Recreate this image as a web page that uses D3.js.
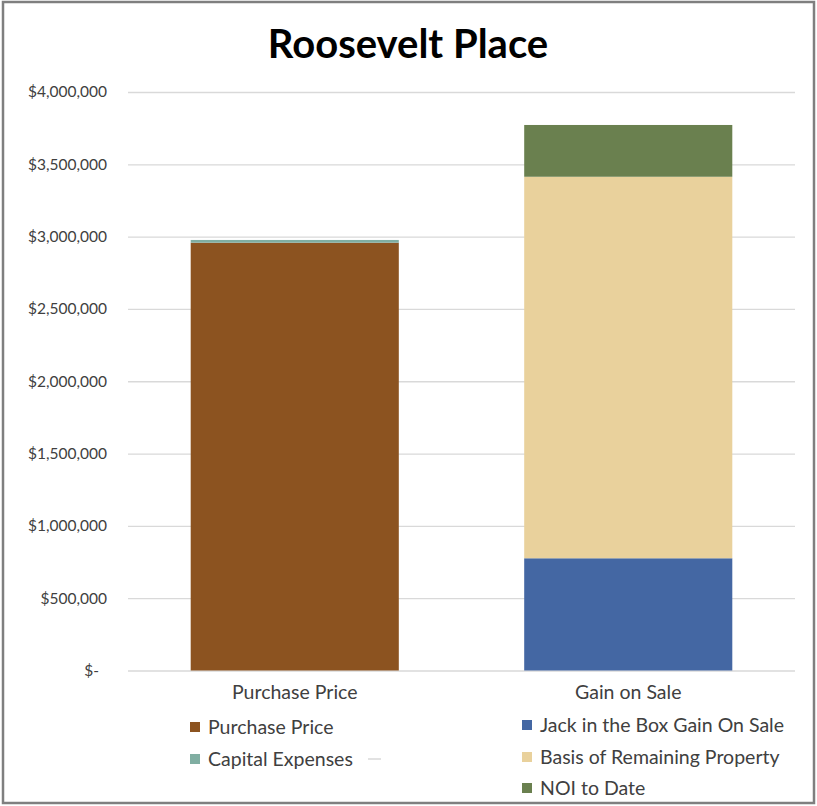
<!DOCTYPE html>
<html>
<head>
<meta charset="utf-8">
<script src="https://cdn.jsdelivr.net/npm/d3@7"></script>
<style>
  body { margin: 0; background: #fff; }
  svg { display: block; font-family: Lato, "Open Sans", sans-serif; }
</style>
</head>
<body>
<svg id="chart" width="817" height="806"></svg>
<script>
// values
const categories = ['Purchase Price', 'Gain on Sale'];
const seriesNames = ['Purchase Price', 'Capital Expenses', 'Jack in the Box Gain On Sale', 'Basis of Remaining Property', 'NOI to Date'];
const purchasePrice = [2958000, 0];
const capitalExpenses = [19000, 0];
const jackInTheBox = [0, 776000];
const basisRemaining = [0, 2638000];
const noiToDate = [0, 358000];
const yTicks = [0, 500000, 1000000, 1500000, 2000000, 2500000, 3000000, 3500000, 4000000];

const colors = ['#8c5320', '#80aea2', '#4467a3', '#e9d19c', '#6a804f'];

const svg = d3.select('#chart');
const W = 817, H = 806;

// outer border
svg.append('rect')
  .attr('x', 3).attr('y', 2)
  .attr('width', W - 6).attr('height', H - 5)
  .attr('fill', '#fff')
  .attr('stroke', '#7f7f7f')
  .attr('stroke-width', 2.5);

svg.append('text')
  .attr('x', 408).attr('y', 58)
  .attr('text-anchor', 'middle')
  .attr('font-size', 40)
  .attr('font-weight', 'bold')
  .attr('fill', '#000')
  .text('Roosevelt Place');

const plotLeft = 128, plotRight = 795, plotTop = 92, plotBottom = 670.5;

const y = d3.scaleLinear().domain([0, 4000000]).range([plotBottom, plotTop]);
const x = d3.scaleBand().domain(categories).range([plotLeft, plotRight])
  .paddingInner(0.376).paddingOuter(0.188);

// gridlines
const grid = svg.append('g')
  .attr('transform', `translate(${plotLeft},0)`)
  .call(d3.axisLeft(y).tickValues(yTicks).tickSize(-(plotRight - plotLeft)).tickFormat(''));
grid.select('.domain').remove();
grid.selectAll('line').attr('stroke', '#d9d9d9').attr('stroke-width', 1.3);

// y axis labels
const fmt = d3.format('$,');
const yAxis = svg.append('g')
  .attr('transform', `translate(${plotLeft},0)`)
  .call(d3.axisLeft(y).tickValues(yTicks).tickSize(0).tickPadding(21)
    .tickFormat(d => d === 0 ? '$-' : fmt(d)));
yAxis.select('.domain').remove();
yAxis.selectAll('text')
  .attr('font-size', 15.5)
  .attr('fill', '#404040')
  .attr('font-family', 'Lato, sans-serif');
yAxis.selectAll('.tick').filter(d => d === 0).select('text').attr('dx', -8);

// stacked bars
const rows = categories.map((c, i) => ({
  cat: c,
  'Purchase Price': purchasePrice[i],
  'Capital Expenses': capitalExpenses[i],
  'Jack in the Box Gain On Sale': jackInTheBox[i],
  'Basis of Remaining Property': basisRemaining[i],
  'NOI to Date': noiToDate[i]
}));
const stacked = d3.stack().keys(seriesNames)(rows);

svg.append('g').selectAll('g')
  .data(stacked)
  .join('g')
  .attr('fill', (d, i) => colors[i])
  .selectAll('rect')
  .data(d => d.filter(p => p[1] - p[0] > 0))
  .join('rect')
  .attr('x', d => x(d.data.cat))
  .attr('width', x.bandwidth())
  .attr('y', d => y(d[1]))
  .attr('height', d => y(d[0]) - y(d[1]));

// x axis
const xAxis = svg.append('g')
  .attr('transform', `translate(0,${plotBottom})`)
  .call(d3.axisBottom(x).tickSize(0).tickPadding(15));
xAxis.select('.domain').remove();
xAxis.selectAll('text')
  .attr('font-size', 19.5)
  .attr('fill', '#404040')
  .attr('font-family', 'Lato, sans-serif');

// legend: two columns as in the picture
const legendPos = [
  { x: 190, y: 727 }, { x: 190, y: 759 },
  { x: 522, y: 725 }, { x: 522, y: 757 }, { x: 522, y: 788 }
];
const legend = svg.append('g').selectAll('g')
  .data(seriesNames)
  .join('g')
  .attr('transform', (d, i) => `translate(${legendPos[i].x},${legendPos[i].y})`);
legend.append('rect')
  .attr('x', 0).attr('y', -5)
  .attr('width', 10).attr('height', 10)
  .attr('fill', (d, i) => colors[i]);
legend.append('text')
  .attr('x', 18).attr('y', 7)
  .attr('font-size', 19.5)
  .attr('fill', '#404040')
  .text(d => d);

// unnamed line entry after Capital Expenses
svg.append('line')
  .attr('x1', 368).attr('x2', 381)
  .attr('y1', 759).attr('y2', 759)
  .attr('stroke', '#d9d9d9').attr('stroke-width', 1.5);
</script>
</body>
</html>
